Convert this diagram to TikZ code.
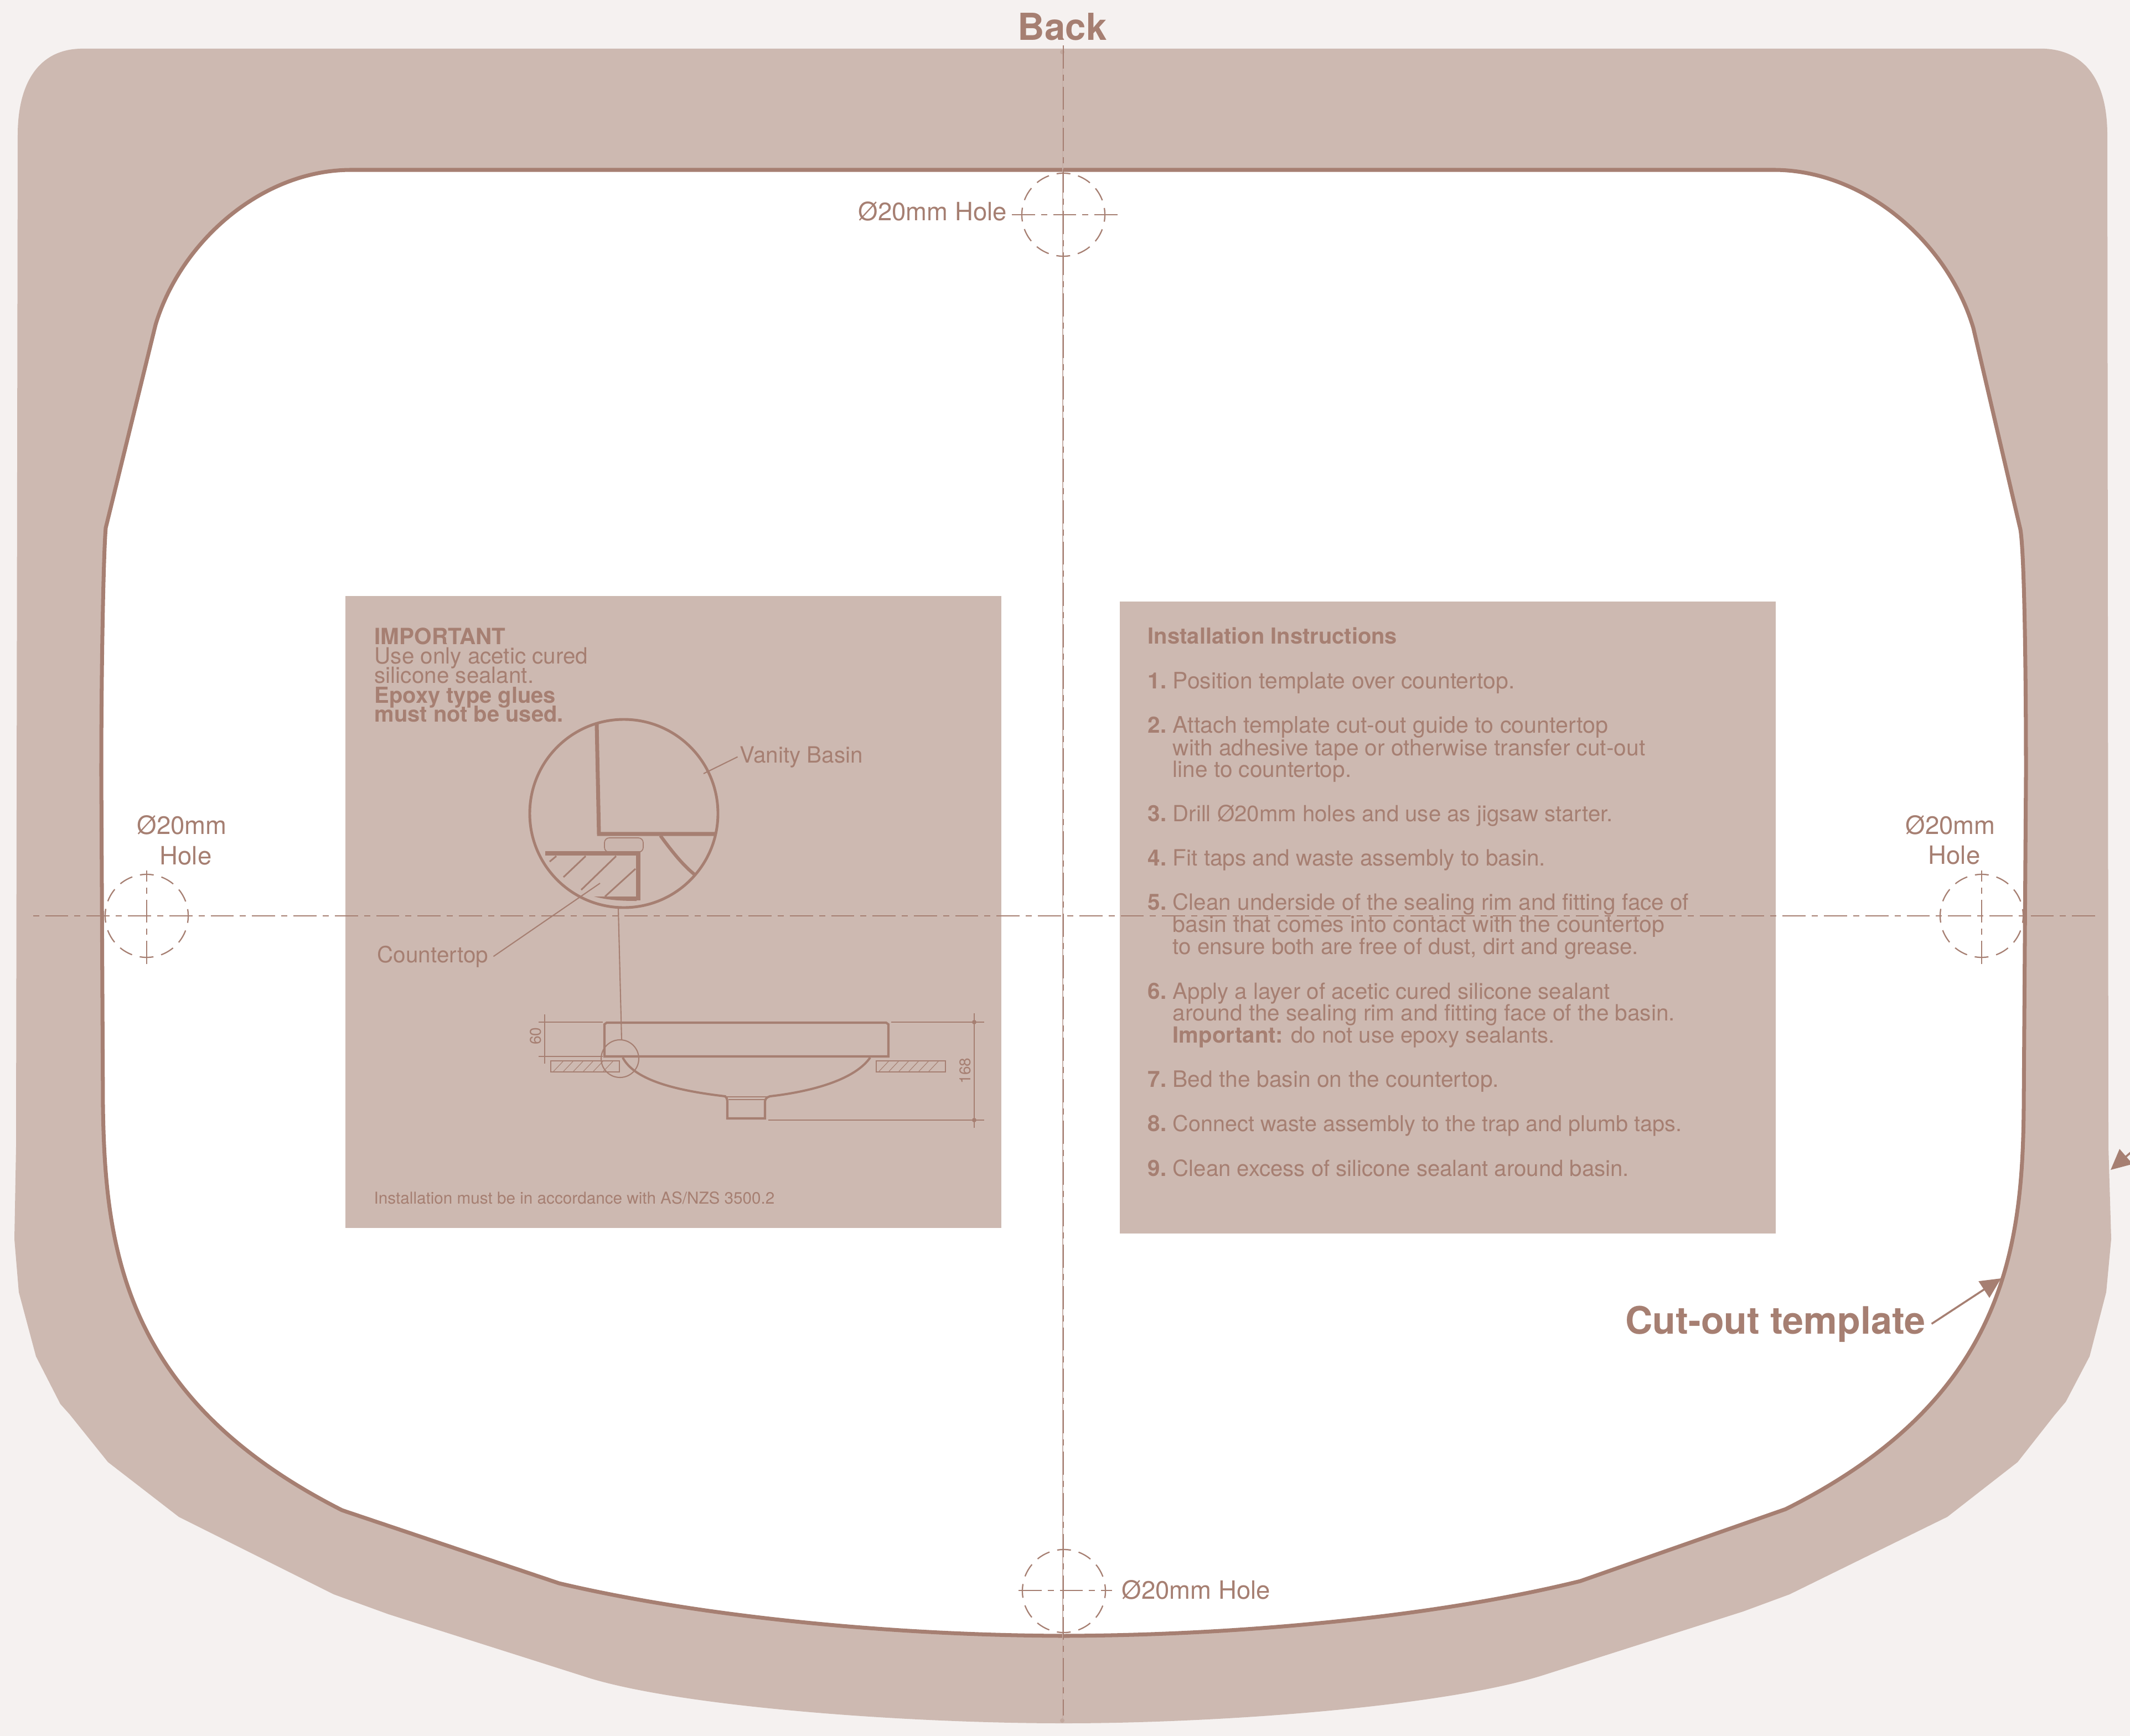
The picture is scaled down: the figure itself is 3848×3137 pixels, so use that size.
\documentclass[tikz,border=0pt]{standalone}
\usepackage{fontspec}
\setmainfont{TeX Gyre Heros}
\usetikzlibrary{arrows.meta}

\definecolor{pagetint}{HTML}{F5F1F0}
\definecolor{bandtint}{HTML}{CDB9B1}
\definecolor{linetint}{HTML}{A67F72}

\tikzset{
  labeltext/.style={anchor=base west, inner sep=0pt, text=linetint, font=\fontsize{12.95}{15}\selectfont},
  bodytext/.style={anchor=base west, inner sep=0pt, text=linetint, font=\fontsize{11.5}{13}\selectfont},
  boldtext/.style={bodytext, font=\fontsize{11.35}{13}\selectfont\bfseries},
  dimtext/.style={inner sep=0pt, text=linetint, rotate=90, font=\fontsize{8}{9}\selectfont},
  centreline/.style={draw=linetint, line width=.8pt, dash pattern=on 11.86pt off 3.13pt on 3.13pt off 3.13pt},
  holeline/.style={draw=linetint, line width=.65pt, dash pattern=on 7.1pt off 4.07pt, dash phase=3.5pt},
  basinline/.style={draw=linetint, line width=1.15pt},
  detailline/.style={draw=linetint, line width=2.1pt},
  thinline/.style={draw=linetint, line width=.5pt},
  pointer/.style={draw=linetint, line width=1pt, -{Triangle[length=10.5pt, width=10pt]}}
}

\begin{document}
\begin{tikzpicture}[x=.01cm, y=-.01cm]
\useasboundingbox (0,0) rectangle (3848,3137);
\fill[pagetint] (0,0) rectangle (3848,3137);

\fill[bandtint] (145,88) -- (3694,88) .. controls (3770,92) and (3807,150) .. (3807,244) -- (3809,2073) -- (3814,2239) -- (3805,2335) -- (3775,2451) -- (3732,2533) -- (3711,2558) -- (3645,2642) -- (3518,2741) -- (3233,2881) -- (3149,2912) -- (2785,3028) .. controls (2600,3085) and (2200,3114) .. (1922,3114) .. controls (1640,3114) and (1240,3085) .. (1067,3033) -- (702,2917) -- (603,2881) -- (323,2741) -- (195,2642) -- (126,2556) -- (109,2537) -- (65,2451) -- (34,2335) -- (26,2239) -- (29,2073) -- (32,244) .. controls (32,150) and (70,90) .. (145,88) -- cycle;

\draw[linetint, line width=2pt, fill=white] (635,307) -- (3204,307) .. controls (3370,307) and (3520,440) .. (3565,593) -- (3650,957) .. controls (3657,1000) and (3660,1200) .. (3660,1400) -- (3656,2000) .. controls (3654,2260) and (3620,2530) .. (3226,2727) -- (2855,2857) .. controls (2600,2920) and (2250,2955) .. (1922,2956) .. controls (1600,2955) and (1260,2920) .. (1010,2861) -- (618,2729) .. controls (225,2530) and (190,2260) .. (186,2000) -- (183,1400) .. controls (183,1200) and (187,1000) .. (191,954) -- (281,587) .. controls (325,440) and (470,307) .. (635,307) -- cycle;

\fill[bandtint] (624,1077) rectangle (1809,2219);
\fill[bandtint] (2023,1087) rectangle (3208,2229);

\node[bodytext] (important) at (676,1164) {\bfseries IMPORTANT};
\node[bodytext] (useonly) at (676,1199) {Use only acetic cured};
\node[bodytext] (silicone) at (676,1234) {silicone sealant.};
\node[boldtext] (epoxy) at (676,1270) {Epoxy type glues};
\node[boldtext] (notused) at (676,1304) {must not be used.};

\node[bodytext] (vanity) at (1336,1378) {Vanity Basin};
\node[bodytext] (countertop) at (681,1739) {Countertop};
\node[bodytext, font=\fontsize{8.44}{10}\selectfont] (standard) at (675,2175) {Installation must be in accordance with AS/NZS 3500.2};

\draw[linetint, line width=1.4pt] (1127,1470) circle[radius=170];
\draw[detailline, line width=2pt] (1078,1308) -- (1082,1507) -- (1293,1507);
\draw[detailline, line width=1.7pt] (1193,1510) .. controls (1215,1540) and (1235,1565) .. (1257,1582);
\draw[thinline, fill=bandtint!95!linetint, rounded corners=2.5pt] (1092,1514) rectangle (1162,1540);
\draw[detailline, line width=2pt] (985,1542) -- (1153,1542) -- (1153,1627);
\fill[linetint] (1073,1620) .. controls (1100,1627) and (1125,1628) .. (1150,1628) -- (1150,1620) -- cycle;
\draw[linetint, line width=.85pt] (1005,1547) -- (993,1557);
\draw[linetint, line width=.85pt] (1058,1547) -- (1018,1585);
\draw[linetint, line width=.85pt] (1113,1547) -- (1050,1608);
\draw[linetint, line width=.85pt] (1148,1570) -- (1093,1620);

\coordinate (vanitytip) at (1271,1398);
\coordinate (countertip) at (1084,1596);
\draw[thinline, line width=.6pt] ([xshift=-1pt]vanity.west) -- (vanitytip);
\draw[thinline, line width=.6pt] ([xshift=2.5pt]countertop.east) -- (countertip);

\draw[basinline] (1092,1909) -- (1092,1851) -- (1096,1848) -- (1601,1848) -- (1605,1851) -- (1605,1909) -- cycle;
\draw[basinline] (1125,1911) .. controls (1145,1950) and (1215,1970) .. (1310,1981) .. controls (1313,1983) and (1313,1985) .. (1314,1990) -- (1314,2021) -- (1382,2021) -- (1382,1990) .. controls (1383,1985) and (1385,1983) .. (1391,1981) .. controls (1470,1972) and (1545,1950) .. (1572,1911);
\draw[thinline] (1313,1982) -- (1386,1982);
\draw[thinline] (1316,1987) -- (1381,1987);

\draw[thinline] (995,1917) rectangle (1119,1937);
\draw[thinline] (1583,1917) rectangle (1708,1937);
\foreach \x in {1000,1018,...,1090} \draw[thinline, line width=.3pt] (\x,1936) -- (\x+17,1918);
\foreach \x in {1588,1606,...,1678} \draw[thinline, line width=.3pt] (\x,1936) -- (\x+17,1918);

\draw[linetint, line width=.6pt] (1120,1913) circle[radius=34];
\draw[linetint, line width=.6pt] (1117,1642) -- (1123,1879);

\draw[thinline] (973,1847) -- (1089,1847);
\draw[thinline] (973,1909) -- (1089,1909);
\draw[thinline] (984,1833) -- (984,1922);
\node[dimtext] (dimsixty) at (968,1872) {60};

\draw[thinline] (1610,1847) -- (1778,1847);
\draw[thinline] (1388,2024) -- (1778,2024);
\draw[thinline] (1760,1831) -- (1760,2038);
\fill[linetint] (1760,1847) circle[radius=4];
\fill[linetint] (1760,2024) circle[radius=4];
\node[dimtext] (dimbasin) at (1744,1935) {168};

\node[boldtext] (instructions) at (2073,1163) {Installation Instructions};

\foreach \yy/\nr in {1244/1,1324/2,1484/3,1564/4,1644/5,1805/6,1964/7,2044/8,2125/9} \node[bodytext] (num\nr) at (2073,\yy) {\bfseries\nr.};

\foreach \yy/\fs/\txt [count=\n] in {1244/11.64/{Position template over countertop.},
  1324/11.72/{Attach template cut-out guide to countertop},
  1365/11.57/{with adhesive tape or otherwise transfer cut-out},
  1404/11.55/{line to countertop.},
  1484/11.43/{Drill Ø20mm holes and use as jigsaw starter.},
  1564/11.52/{Fit taps and waste assembly to basin.},
  1644/11.5/{Clean underside of the sealing rim and fitting face of},
  1684/11.66/{basin that comes into contact with the countertop},
  1724/11.47/{to ensure both are free of dust, dirt and grease.},
  1805/11.46/{Apply a layer of acetic cured silicone sealant},
  1844/11.53/{around the sealing rim and fitting face of the basin.},
  1884/11.42/{\textbf{Important:} do not use epoxy sealants.},
  1964/11.6/{Bed the basin on the countertop.},
  2044/11.26/{Connect waste assembly to the trap and plumb taps.},
  2125/11.43/{Clean excess of silicone sealant around basin.}}
  \node[bodytext, font=\fontsize{\fs}{13}\selectfont] (stepline\n) at (2118,\yy) {\txt};

\draw[bandtint!85!linetint, line width=.3pt] (1920,94) -- (1920,3109);
\fill[bandtint!70!linetint] (1919,94) circle[radius=4];
\fill[bandtint!70!linetint] (1919,3109) circle[radius=4];
\draw[centreline] (1921,82) -- (1921,3100);
\draw[centreline, dash phase=15.08pt] (60,1655) -- (3786,1655);

\foreach \hx/\hy in {1921/388,265/1655,3580/1655,1922/2875} \draw[holeline] (\hx,\hy) circle[radius=75];
\draw[centreline, line width=.65pt] (1828,388) -- (2020,388);
\draw[centreline, line width=.65pt] (1840,2874) -- (2009,2874);
\draw[centreline, line width=.65pt] (265,1742) -- (265,1573);
\draw[centreline, line width=.65pt] (3580,1742) -- (3580,1573);

\node[labeltext, font=\fontsize{19.1}{22}\selectfont\bfseries] (back) at (1838,73) {Back};
\node[labeltext] (holetop) at (1550,399) {Ø20mm Hole};
\node[labeltext] (holebottom) at (2026,2889) {Ø20mm Hole};
\node[labeltext] (holeleft) at (247,1507) {Ø20mm};
\node[labeltext] (holeleftb) at (288,1562) {Hole};
\node[labeltext] (holeright) at (3442,1507) {Ø20mm};
\node[labeltext] (holerightb) at (3483,1561) {Hole};

\node[labeltext, font=\fontsize{19.4}{24}\selectfont\bfseries] (cutlabel) at (2936,2410) {Cut-out template};
\coordinate (cuttip) at (3615,2310);
\coordinate (edgetip) at (3813,2114);
\coordinate (edgetail) at (3880,2056);
\draw[pointer] ([xshift=3pt]cutlabel.east) -- (cuttip);
\draw[pointer] (edgetail) -- (edgetip);

\end{tikzpicture}
\end{document}
